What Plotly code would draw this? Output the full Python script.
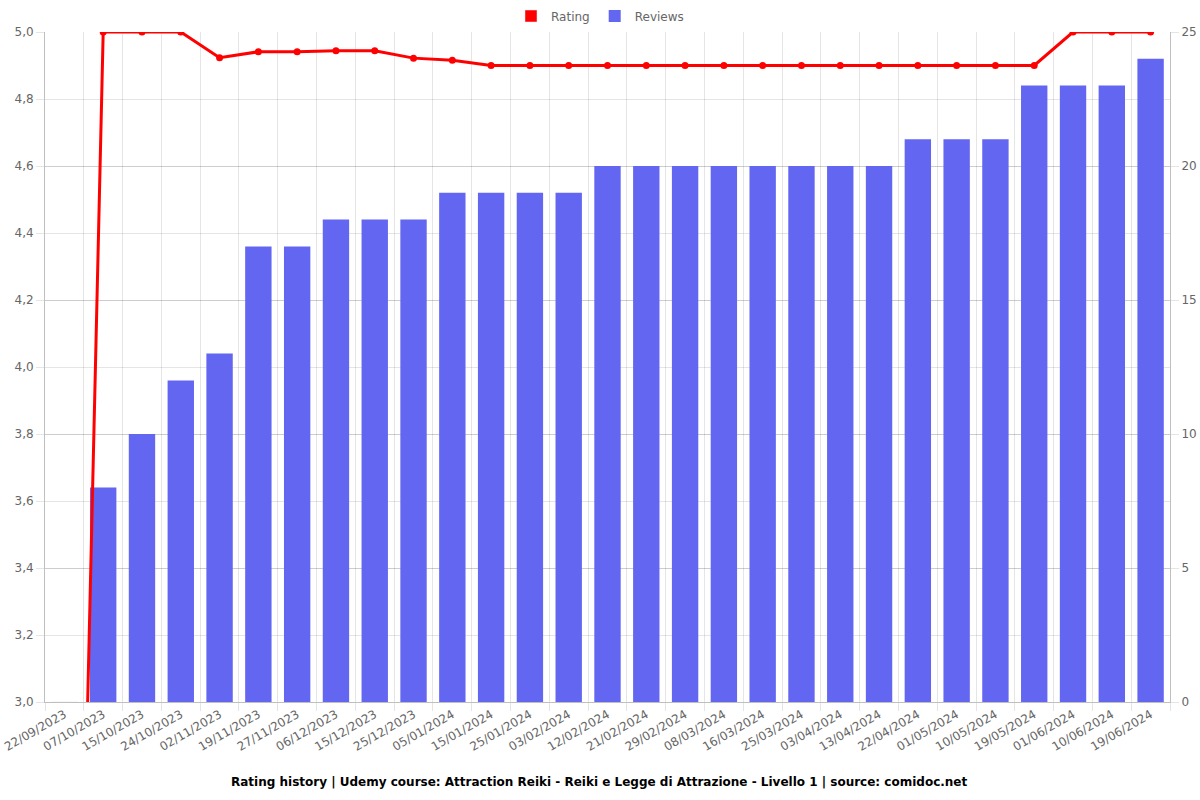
import plotly.graph_objects as go

dates = ["22/09/2023", "07/10/2023", "15/10/2023", "24/10/2023", "02/11/2023",
         "19/11/2023", "27/11/2023", "06/12/2023", "15/12/2023", "25/12/2023",
         "05/01/2024", "15/01/2024", "25/01/2024", "03/02/2024", "12/02/2024",
         "21/02/2024", "29/02/2024", "08/03/2024", "16/03/2024", "25/03/2024",
         "03/04/2024", "13/04/2024", "22/04/2024", "01/05/2024", "10/05/2024",
         "19/05/2024", "01/06/2024", "10/06/2024", "19/06/2024"]
rating = [0, 5.0, 5.0, 5.0, 4.923, 4.941, 4.941, 4.944, 4.944, 4.922,
          4.916, 4.90, 4.90, 4.90, 4.90, 4.90, 4.90, 4.90, 4.90, 4.90,
          4.90, 4.90, 4.90, 4.90, 4.90, 4.90, 5.0, 5.0, 5.0]
reviews = [0, 8, 10, 12, 13, 17, 17, 18, 18, 18, 19, 19, 19, 19, 20,
           20, 20, 20, 20, 20, 20, 20, 21, 21, 21, 23, 23, 23, 24]
left_ticks = [3.0, 3.2, 3.4, 3.6, 3.8, 4.0, 4.2, 4.4, 4.6, 4.8, 5.0]
right_ticks = [0, 5, 10, 15, 20, 25]

RED = "#ff0000"
BLUE = "#6366f1"
FONT = "DejaVu Sans"
GRID = "rgba(0,0,0,0.1)"
TICKFONT = dict(family=FONT, size=12, color="#666666")

fig = go.Figure()
fig.add_trace(go.Bar(x=dates, y=reviews, name="Reviews", yaxis="y",
                     marker=dict(color=BLUE, line=dict(width=0)),
                     legendrank=2))
fig.add_trace(go.Scatter(x=dates, y=rating, name="Rating", yaxis="y2",
                         mode="lines+markers", line=dict(color=RED, width=3),
                         marker=dict(color=RED, size=7), cliponaxis=True,
                         showlegend=False))
# legend swatch for Rating (box style)
fig.add_trace(go.Bar(x=[dates[0]], y=[0], name="Rating", yaxis="y",
                     marker=dict(color=RED), legendrank=1, showlegend=True,
                     hoverinfo="skip"))

fig.update_layout(
    width=1200, height=800,
    paper_bgcolor="white", plot_bgcolor="white",
    separators=",.",
    font=dict(family=FONT, size=12, color="#666666"),
    margin=dict(l=45, r=30, t=32, b=98, autoexpand=False),
    bargap=0.32,
    barmode="overlay",
    showlegend=True,
    legend=dict(orientation="h", xref="container", yref="container",
                x=0.5, xanchor="center", y=0.98, yanchor="middle",
                font=dict(family=FONT, size=12, color="#666666"),
                traceorder="normal"),
    xaxis=dict(type="category", tickangle=-30, tickson="boundaries",
               range=[-0.5, len(dates) - 0.5], automargin=False,
               showgrid=True, gridcolor=GRID,
               ticks="outside", ticklen=8, tickcolor=GRID,
               showline=True, linecolor="rgba(0,0,0,0.25)",
               tickfont=TICKFONT),
    yaxis=dict(side="right", range=[0, 25], tickvals=right_ticks,
               automargin=False,
               showgrid=True, gridcolor=GRID,
               ticks="outside", ticklen=8, tickcolor=GRID,
               showline=True, linecolor="rgba(0,0,0,0.25)", zeroline=False,
               tickfont=TICKFONT),
    yaxis2=dict(side="left", overlaying="y", range=[3, 5], tickvals=left_ticks,
                tickformat=".1f", automargin=False,
                showgrid=True, gridcolor=GRID,
                ticks="outside", ticklen=8, tickcolor=GRID,
                showline=True, linecolor="rgba(0,0,0,0.25)", zeroline=False,
                tickfont=TICKFONT),
    annotations=[dict(
        text="<b>Rating history | Udemy course: Attraction Reiki - Reiki e Legge di Attrazione - Livello 1 | source: comidoc.net</b>",
        xref="paper", yref="paper", x=0.4933, y=-0.1194, xanchor="center", yanchor="middle",
        showarrow=False,
        font=dict(family=FONT, size=12, color="#000000"))],
)

fig.write_html("out.html",
               config={"displayModeBar": False},
               post_script="document.body.style.margin='0';document.body.style.overflow='hidden';")
